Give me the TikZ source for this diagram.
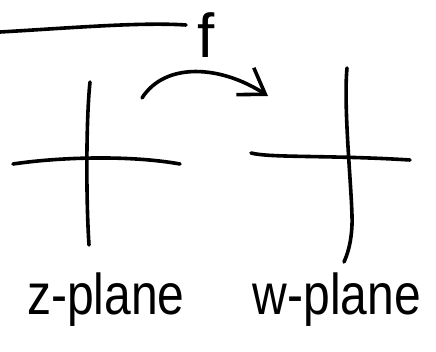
\documentclass[tikz,border=0pt]{standalone}
\usepackage{fontspec}
\setmainfont{Liberation Sans}
\usetikzlibrary{arrows.meta}
\begin{document}
\begin{tikzpicture}[x=1pt,y=-1pt,
  pen/.style={line width=3.6pt,line cap=round,line join=round},
  lbl/.style={font=\fontsize{48}{50}\selectfont,inner sep=0pt,anchor=base}]
\useasboundingbox (0,0) rectangle (436,352);
% top stroke
\coordinate (t1) at (0,32);
\coordinate (t2) at (186,25);
\draw[pen] (t1) .. controls (70,28) and (140,22) .. (t2);
% label f
\node[lbl,font=\fontsize{62}{64}\selectfont] (f) at (206,58) {f};
% arrow
\coordinate (a1) at (142,98);
\coordinate (a2) at (268,96);
\draw[pen,-{Straight Barb[length=24pt,width=32pt,line width=3.6pt]}] (a1) .. controls (165,62) and (220,65) .. (a2);
% z-plane axes
\coordinate (zl) at (13,164);
\coordinate (zr) at (180,164);
\coordinate (zt) at (90,82);
\coordinate (zb) at (89,245);
\draw[pen] (zl) .. controls (60,157) and (130,155) .. (zr);
\draw[pen] (zt) .. controls (86,120) and (86,200) .. (zb);
% w-plane axes
\coordinate (wl) at (251,153);
\coordinate (wr) at (410,160);
\coordinate (wt) at (347,68);
\coordinate (wb) at (344,262);
\draw[pen] (wl) .. controls (270,158) and (330,155) .. (wr);
\draw[pen] (wt) .. controls (343,110) and (353,200) .. (352,225) .. controls (351,245) and (347,255) .. (wb);
% labels
\node[lbl] (zlab) at (106,315) {\scalebox{1}[1.2]{z-plane}};
\node[lbl] (wlab) at (337,315) {\scalebox{1}[1.2]{w-plane}};
\end{tikzpicture}
\end{document}
